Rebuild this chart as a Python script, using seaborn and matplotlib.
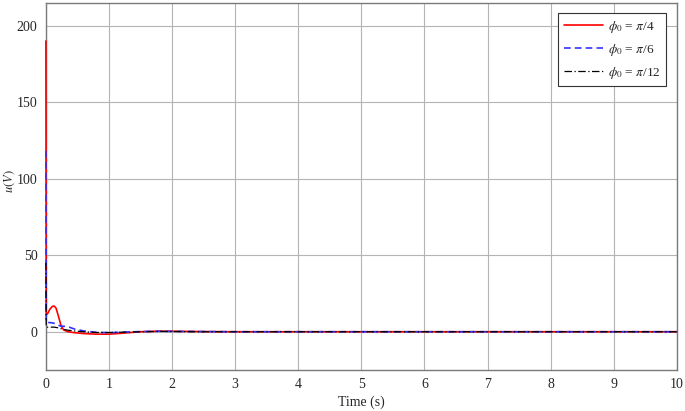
import numpy as np
import pandas as pd
import seaborn as sns
import matplotlib
matplotlib.use("Agg")
import matplotlib.pyplot as plt

time_s = [0, 0.005, 0.03, 0.06, 0.1, 0.13, 0.16, 0.2, 0.24, 0.28, 0.35, 0.45, 0.6, 0.8,
          1.0, 1.2, 1.5, 1.8, 2.1, 2.5, 3, 4, 5, 6, 7, 8, 9, 10]
u_pi4 = [190, 11, 12, 14.5, 16.5, 16.8, 15.5, 10, 4, 1.2, 0, -0.6, -1.2, -1.6,
         -1.6, -1.0, 0, 0.4, 0.3, 0.1, 0, 0, 0, 0, 0, 0, 0, 0]
u_pi6 = [118, 6, 6, 6, 5.8, 5.5, 5, 4.2, 3.6, 3.6, 3.3, 1.8, 0.5, -0.4,
         -0.6, -0.3, 0.1, 0.3, 0.2, 0.1, 0, 0, 0, 0, 0, 0, 0, 0]
u_pi12 = [45, 3, 3, 3, 3, 3, 2.8, 2.5, 2, 1.5, 1.0, 0.5, 0, -0.5,
          -0.5, -0.3, 0, 0.2, 0.1, 0, 0, 0, 0, 0, 0, 0, 0, 0]
labels = [r"$\phi_0$ = $\pi$/4", r"$\phi_0$ = $\pi$/6", r"$\phi_0$ = $\pi$/12"]
x_ticks = list(range(0, 11))
y_ticks = [0, 50, 100, 150, 200]

sns.set_theme(style="whitegrid")
plt.rcParams["font.family"] = ["Liberation Serif", "DejaVu Serif"]
plt.rcParams["mathtext.fontset"] = "stix"

fig = plt.figure(figsize=(6.85, 4.11), dpi=100)
ax = fig.add_axes([0.067, 0.0998, 0.921, 0.8935])

styles = [("#ff0000", "-", 1.2), ("#3333ff", (0, (4, 2.5)), 1.2), ("#000000", (0, (6, 2, 1, 2)), 0.9)]
for vals, lab, (c, ls, lw) in zip([u_pi4, u_pi6, u_pi12], labels, styles):
    sns.lineplot(x=time_s, y=vals, ax=ax, color=c, linestyle=ls, linewidth=lw, label=lab)
for ln in ax.get_lines():
    ln.set_clip_on(False)
    ln.set_zorder(5)

ax.set_xlim(0, 10)
ax.set_ylim(-25, 215)
ax.set_xticks(x_ticks)
ax.set_yticks(y_ticks)
ax.grid(True, color="#b4b4b4", linewidth=0.8)
for s in ax.spines.values():
    s.set_color("#7a7a7a")
    s.set_linewidth(1.0)
    s.set_zorder(2)
ax.tick_params(axis="both", labelsize=10, colors="#262626", direction="in", length=3,
               pad=6)
ax.set_xlabel("Time (s)", fontsize=10, labelpad=3)
ax.set_ylabel(r"$u(V)$", fontsize=9, va="center", ha="center")
ax.yaxis.set_label_coords(-0.058, 0.515)

leg = ax.legend(loc="upper right", fontsize=9.5, frameon=True, fancybox=False,
                edgecolor="#333333", framealpha=1, borderaxespad=0.8,
                handlelength=3.0, handletextpad=0.4, labelspacing=0.55)
leg.get_frame().set_linewidth(0.8)
leg.set_zorder(10)

fig.savefig("out.png", dpi=100)
